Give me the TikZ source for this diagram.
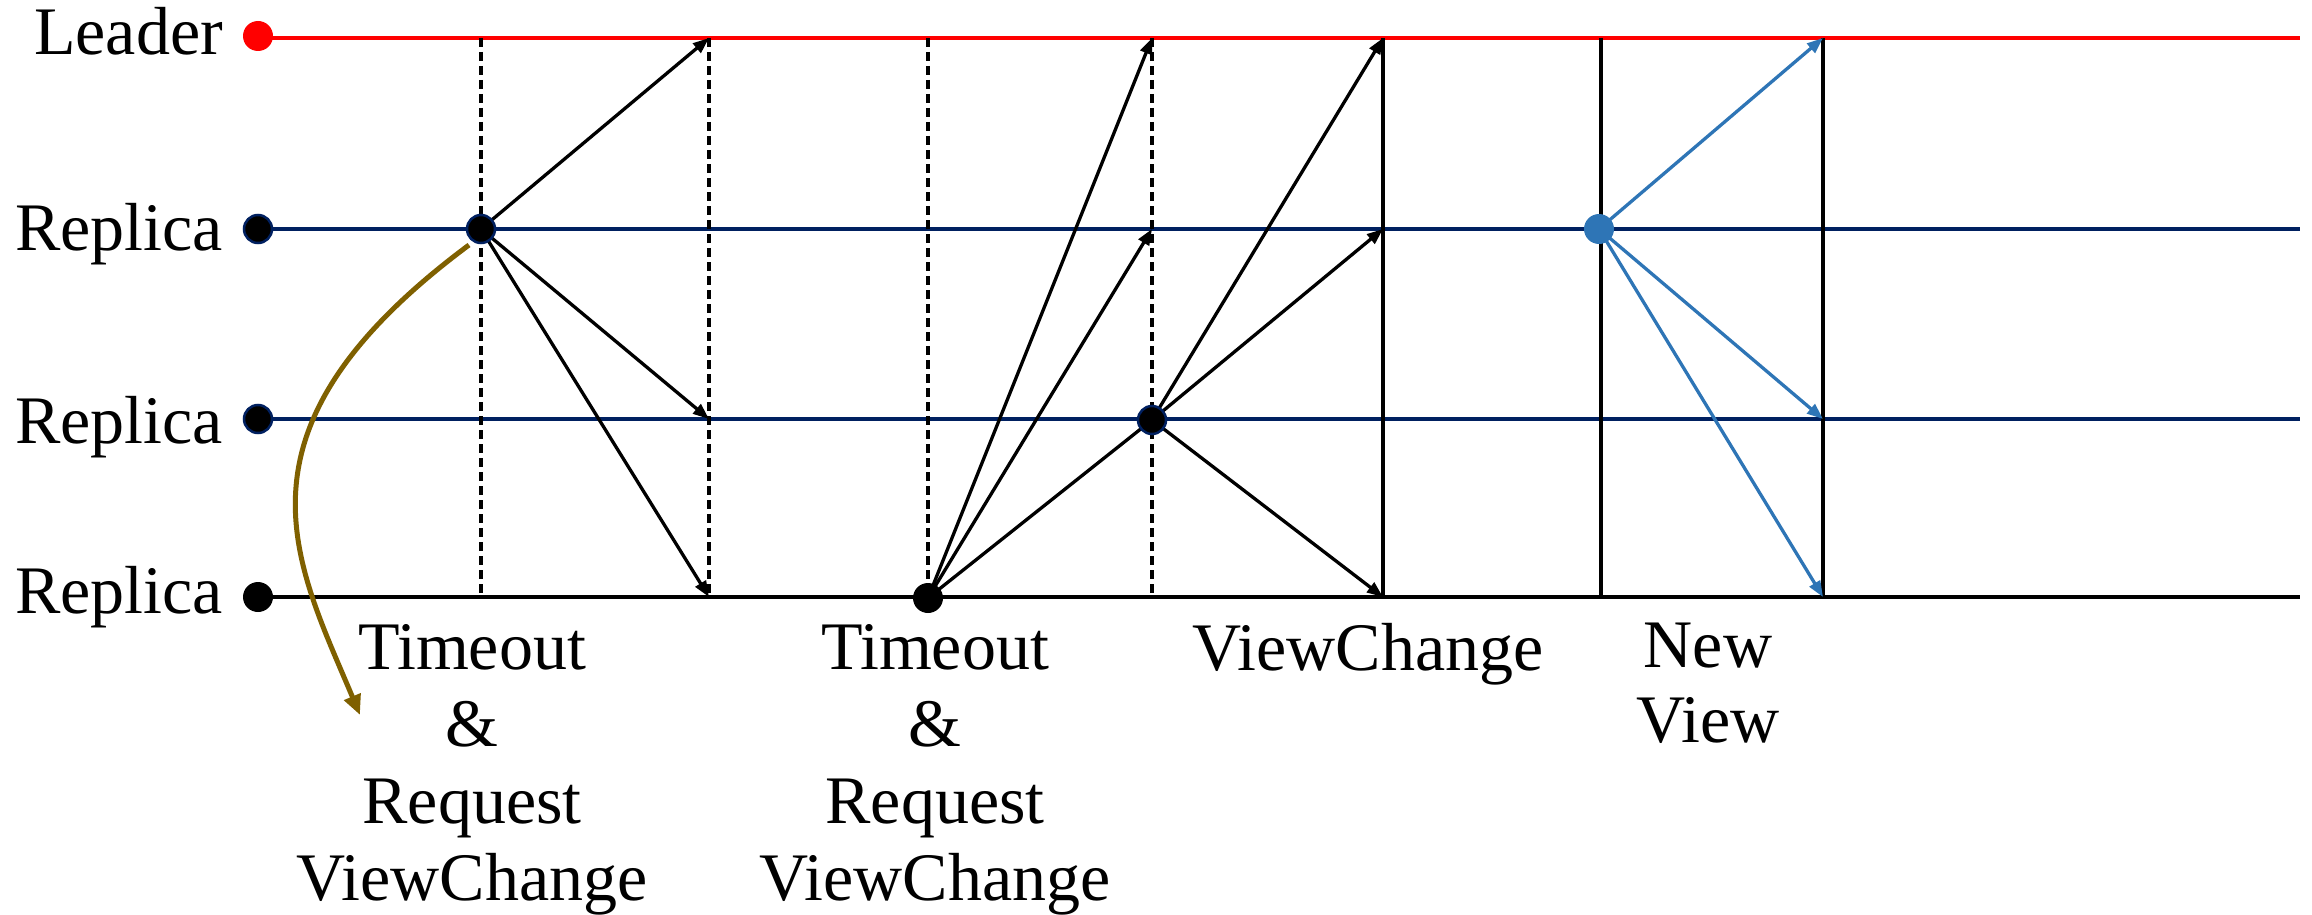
\documentclass[tikz,border=0pt]{standalone}
\usepackage{fontspec}
\setmainfont{Liberation Serif}
\usetikzlibrary{arrows.meta,calc}
\definecolor{navy}{HTML}{002060}
\definecolor{brownc}{HTML}{7F6000}
\definecolor{bluec}{HTML}{2E75B6}
\tikzset{
 hline/.style={line width=3.5pt},
 vdash/.style={line width=3.5pt, dash pattern=on 9pt off 5pt},
 vsolid/.style={line width=3.5pt},
 msg/.style={line width=3.3pt, -{Triangle[length=16pt,width=12pt]}},
 dotn/.style={circle, inner sep=0pt, minimum size=30pt},
 odot/.style={circle, inner sep=0pt, minimum size=28pt, fill=black, draw=navy, line width=2.5pt},
 rname/.style={font=\fontsize{68}{77}\selectfont, inner sep=0pt, anchor=base east},
 lbl/.style={font=\fontsize{68}{77}\selectfont, inner sep=0pt, align=center, anchor=north},
 tlbl/.style={font=\fontsize{68}{75}\selectfont, inner sep=0pt, align=center, anchor=north},
}
\begin{document}
\begin{tikzpicture}[x=1pt,y=-1pt]
\useasboundingbox (0,0) rectangle (2312,915);
% lifeline ends
\coordinate (L0) at (258,38);  \coordinate (L1) at (2300,38);
\coordinate (A0) at (258,229); \coordinate (A1) at (2300,229);
\coordinate (B0) at (258,419); \coordinate (B1) at (2300,419);
\coordinate (C0) at (258,597); \coordinate (C1) at (2300,597);
% vertical markers
\foreach \n/\x in {1/481,2/709,3/928,4/1152,5/1383,6/1601,7/1823}{
  \coordinate (t\n) at (\x,38); \coordinate (b\n) at (\x,597);
}
% events
\coordinate (e1) at (481,229);
\coordinate (e2) at (928,598);
\coordinate (e3) at (1152,420);
\coordinate (e4) at (1599,229);
\coordinate (c0) at (469,245);
\coordinate (c1) at (360,715);
% horizontal lines
\draw[hline, red] (L0) -- (L1);
\draw[hline, navy] (A0) -- (A1);
\draw[hline, navy] (B0) -- (B1);
\draw[hline, black] (C0) -- (C1);
% vertical lines
\foreach \n in {1,2,3,4}{ \draw[vdash] (t\n) -- (b\n); }
\foreach \n in {5,6,7}{ \draw[vsolid] (t\n) -- (b\n); }
% messages
\draw[msg] (e1) -- (t2);
\draw[msg] (e1) -- (t2 |- B0);
\draw[msg] (e1) -- (b2);
\draw[msg] (e2) -- (t4);
\draw[msg] (e2) -- (t4 |- A0);
\draw[line width=3.3pt] (e2) -- (e3);
\draw[msg] (e3) -- (t5);
\draw[msg] (e3) -- (t5 |- A0);
\draw[msg] (e3) -- (b5);
\draw[msg, bluec] (e4) -- (t7);
\draw[msg, bluec] (e4) -- (t7 |- B0);
\draw[msg, bluec] (e4) -- (b7);
% curved brown arrow
\draw[brownc, line width=5pt, -{Triangle[length=20pt,width=17pt]}] (c0) .. controls (220,430) and (295,560) .. (c1);
% dots
\node[dotn, fill=red] (ld) at (258,36) {};
\node[odot] (r1) at (A0) {};
\node[odot] (r2) at (B0) {};
\node[dotn, fill=black] (r3) at (C0) {};
\node[odot] (d1) at (e1) {};
\node[dotn, fill=black] (d2) at (e2) {};
\node[odot] (d3) at (e3) {};
\node[dotn, fill=bluec] (d4) at (e4) {};
% names
\node[rname] (nL) at (223,55) {Leader};
\node[rname] (nA) at (223,250) {Replica};
\node[rname] (nB) at (223,443) {Replica};
\node[rname] (nC) at (223,613) {Replica};
% labels
\node[lbl] (lab1) at (472,624) {Timeout\\\&\\Request\\ViewChange};
\node[lbl] (lab2) at (935,624) {Timeout\\\&\\Request\\ViewChange};
\node[tlbl] (lab3) at (1368,623) {ViewChange};
\node[tlbl] (lab4) at (1708,623) {New\\View};
\end{tikzpicture}
\end{document}
